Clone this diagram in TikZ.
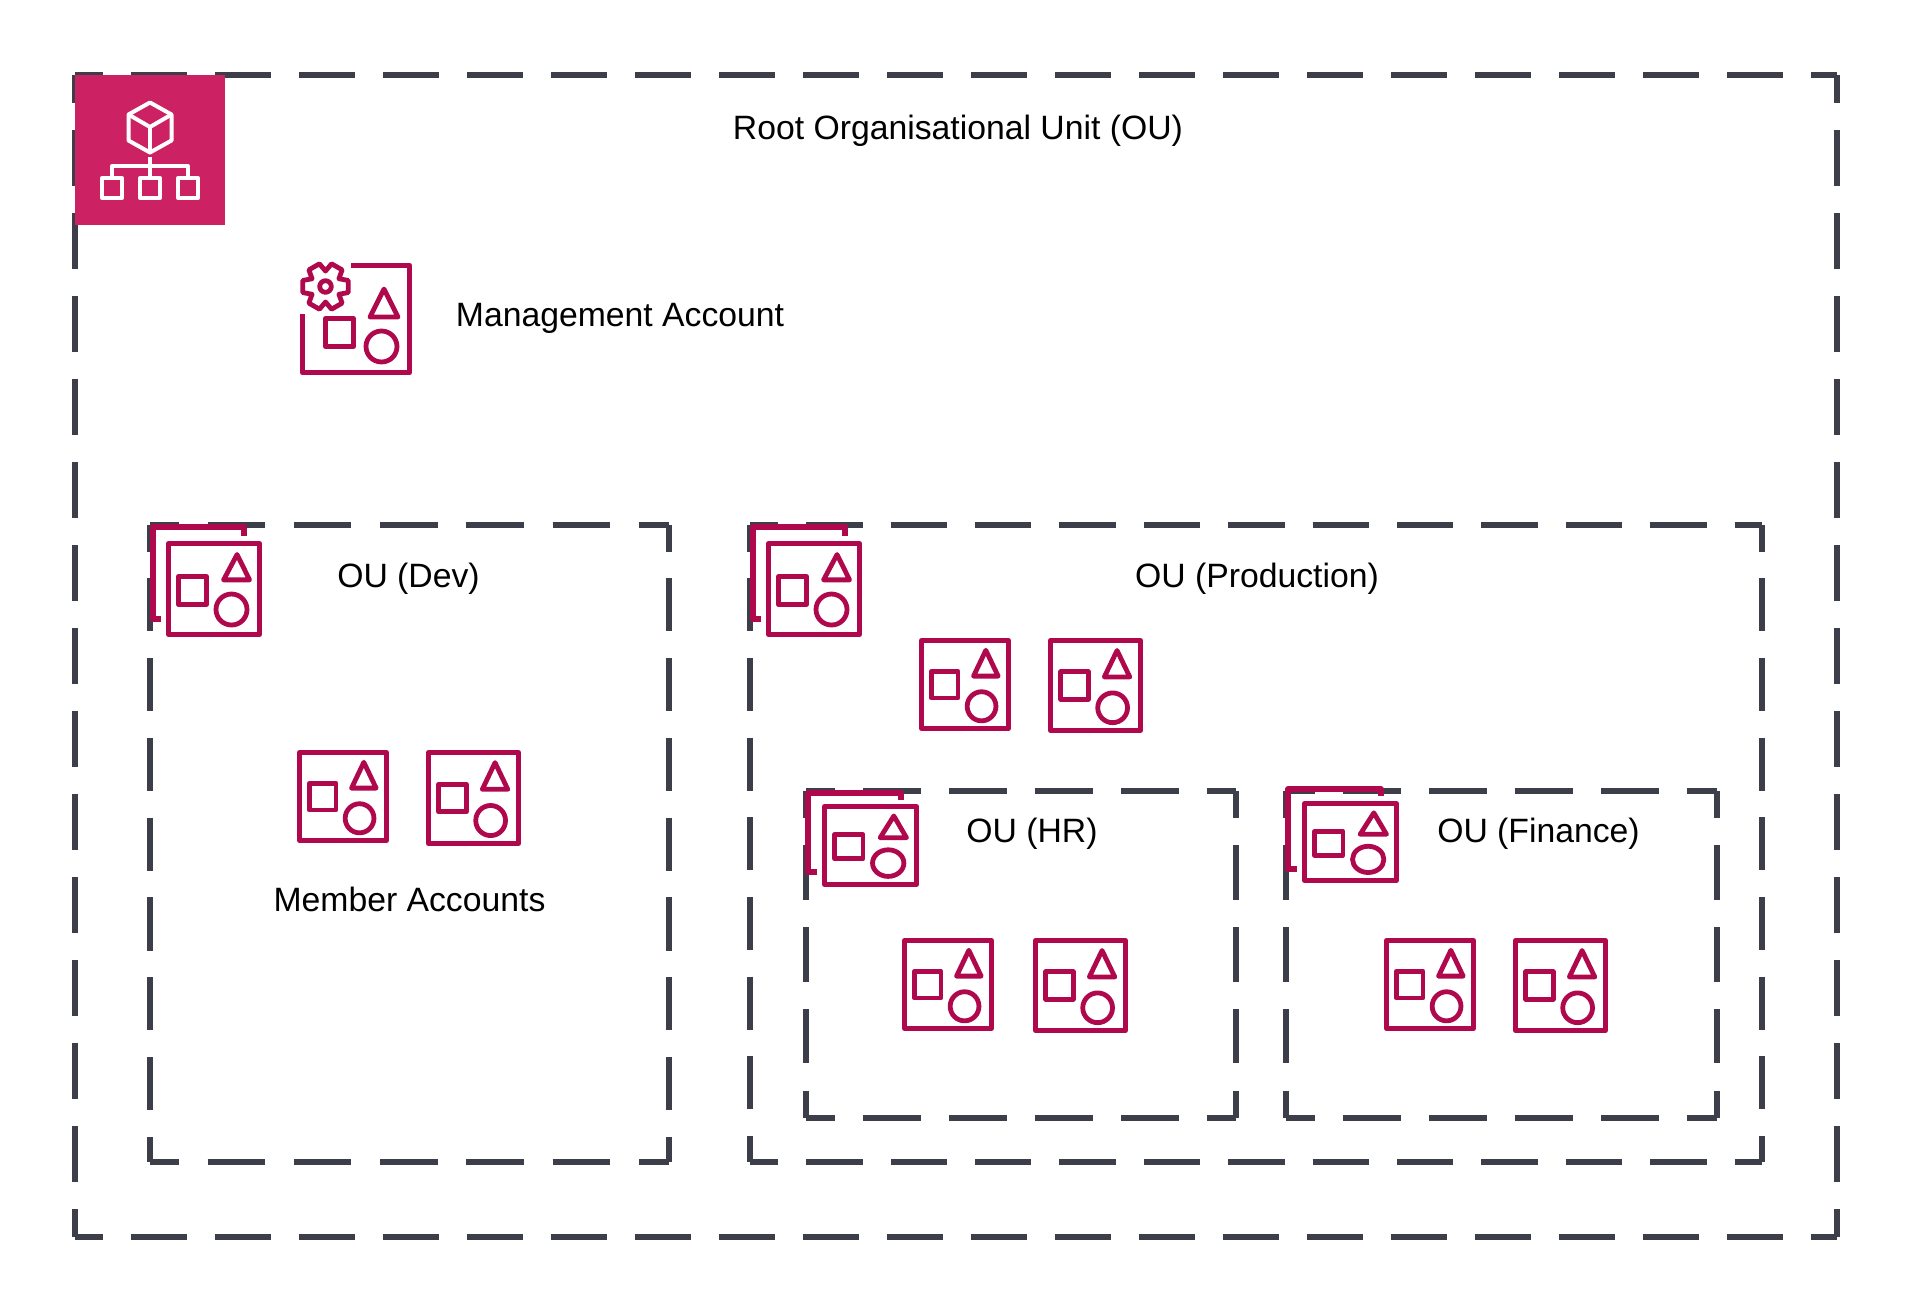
\documentclass[tikz,border=0pt]{standalone}
\usepackage{fontspec}
\setmainfont{Liberation Sans}
\definecolor{oudark}{HTML}{3C3F4A}
\definecolor{orgpink}{HTML}{CC2264}
\definecolor{acctred}{HTML}{B0084D}
\tikzset{
  outxt/.style={inner sep=0pt,text=black,font=\fontsize{16.87}{20}\selectfont},
  acctline/.style={draw=acctred,line width=2.4pt,line join=round,line cap=butt},
  orgline/.style={draw=white,line width=2pt,line join=round}
}
% name, x1,y1,x2,y2 (centre lines, px), horizontal dash period, vertical dash period
\newcommand{\oubox}[7]{%
  \coordinate (#1-nw) at (#2,#3);
  \coordinate (#1-se) at (#4,#5);
  \pgfmathsetmacro{\hon}{#6/3}\pgfmathsetmacro{\hoff}{#6/6}%
  \pgfmathsetmacro{\von}{#7/3}\pgfmathsetmacro{\voff}{#7/6}%
  \draw[oudark,line width=3pt,dash pattern=on \hon pt off \hoff pt,dash phase=\hoff pt]
    (#1-nw) -- (#1-nw -| #1-se);
  \draw[oudark,line width=3pt,dash pattern=on \hon pt off \hoff pt,dash phase=\hoff pt]
    (#1-nw |- #1-se) -- (#1-se);
  \draw[oudark,line width=3pt,dash pattern=on \von pt off \voff pt,dash phase=\voff pt]
    (#1-nw) -- (#1-nw |- #1-se);
  \draw[oudark,line width=3pt,dash pattern=on \von pt off \voff pt,dash phase=\voff pt]
    (#1-nw -| #1-se) -- (#1-se);
}
% member account icon: outer edges x1,y1,x2,y2
\newcommand{\memberacct}[4]{%
  \pgfmathsetlengthmacro{\iw}{(#3-#1-4.8)*0.5pt}%
  \pgfmathsetlengthmacro{\ih}{(#4-#2-4.8)*0.5pt}%
  \pgfmathsetmacro{\ix}{#1+2.4}\pgfmathsetmacro{\iy}{#2+2.4}%
  \begin{scope}[shift={(\ix,\iy)},x=\iw,y=-\ih]
    \draw[acctline] (0,0) rectangle (1,1);
    \draw[acctline] (.114,.348) rectangle (.42,.652);
    \draw[acctline] (.739,.112) -- (.88,.405) -- (.598,.405) -- cycle;
    \draw[acctline] (.69,.747) circle [x radius=.165,y radius=.165];
  \end{scope}
}
% group icon: front box outer edges x1,y1,x2,y2
\newcommand{\groupacct}[4]{%
  \pgfmathsetlengthmacro{\iw}{(#3-#1-4.8)*0.5pt}%
  \pgfmathsetlengthmacro{\ih}{(#4-#2-4.8)*0.5pt}%
  \pgfmathsetmacro{\ix}{#1+2.4}\pgfmathsetmacro{\iy}{#2+2.4}%
  \begin{scope}[shift={(\ix,\iy)},x=\iw,y=-\ih]
    \draw[acctline] (0,0) rectangle (1,1);
    \draw[acctline] (.11,.363) rectangle (.418,.67);
    \draw[acctline] (.753,.122) -- (.89,.40) -- (.605,.40) -- cycle;
    \draw[acctline] (.692,.725) circle [x radius=.17,y radius=.17];
  \end{scope}
}
% back of a group icon: left,top,right,topend,bottom,bottomend
\newcommand{\groupback}[6]{%
  \draw[acctline,line width=2.75pt] (#6,#5) -- (#1,#5) -- (#1,#2) -- (#3,#2) -- (#3,#4);
}
\begin{document}
\begin{tikzpicture}[x=0.5pt,y=-0.5pt]
\useasboundingbox (0,0) rectangle (1913,1313);
\fill[white] (0,0) rectangle (1913,1313);

% dashed containers
\oubox{root}{75}{75}{1837}{1237}{84}{83}
\oubox{dev}{150}{525}{669}{1162}{86.3}{79.8}
\oubox{prod}{750}{525}{1762}{1162}{84.4}{79.7}
\oubox{hr}{806}{791}{1236}{1118}{86}{81.7}
\oubox{fin}{1286}{791}{1717}{1118}{86}{81.7}

% organisations badge
\fill[orgpink] (75,75) rectangle (225,225);
\begin{scope}[orgline]
  \draw (150,102.5) -- (171.5,114.5) -- (171.5,140.5) -- (150,152.5) -- (128.5,140.5) -- (128.5,114.5) -- cycle;
  \draw (128.5,114.5) -- (150,127) -- (171.5,114.5);
  \draw (150,127) -- (150,152.5);
  \draw (150,157) -- (150,177);
  \draw (112,177) -- (112,166) -- (188,166) -- (188,177);
  \draw (102,178) rectangle (122,198);
  \draw (140,178) rectangle (160,198);
  \draw (178,178) rectangle (198,198);
\end{scope}

% management account
\draw[acctline] (351,265.2) -- (409.8,265.2) -- (409.8,372.8) -- (302.2,372.8) -- (302.2,314);
\draw[acctline] (325.5,318.5) rectangle (353.5,346.5);
\draw[acctline] (384,289) -- (398,317) -- (370,317) -- cycle;
\draw[acctline] (381.5,346.5) circle [radius=15.5];
\begin{scope}[shift={(325.5,286.5)}]
  \draw[acctline] (-30:15.5)
    \foreach \a in {0,60,120,180,240,300} { -- (\a-15:23.5) -- (\a+15:23.5) -- (\a+30:15.5) } -- cycle;
  \draw[acctline] (0,0) circle [radius=5.8];
\end{scope}

% group icons
\groupback{153}{527}{244}{536}{619}{161}
\groupacct{166}{541}{262}{637}
\groupback{753}{527}{845}{536}{619}{761}
\groupacct{766}{541}{862}{637}
\groupback{808}{793}{901}{800}{872}{817}
\groupacct{822}{804}{919}{887}
\groupback{1288}{789}{1381}{796}{869}{1297}
\groupacct{1302}{801}{1399}{883}

% member accounts
\memberacct{297}{750}{389}{843}
\memberacct{426}{750}{521}{846}
\memberacct{919}{638}{1011}{731}
\memberacct{1048}{638}{1143}{733}
\memberacct{902}{938}{994}{1031}
\memberacct{1033}{938}{1128}{1033}
\memberacct{1384}{938}{1476}{1031}
\memberacct{1513}{938}{1608}{1033}

% labels
\node[outxt] (rootlabel) at (958,130.5) {Root Organisational Unit (OU)};
\node[outxt,anchor=west] (mgmtlabel) at (455.5,318) {Management Account};
\node[outxt] (devlabel) at (408.5,579) {OU (Dev)};
\node[outxt] (prodlabel) at (1257,579) {OU (Production)};
\node[outxt] (hrlabel) at (1032,834) {OU (HR)};
\node[outxt] (finlabel) at (1538.5,834) {OU (Finance)};
\node[outxt] (memberlabel) at (409.5,899) {Member Accounts};
\end{tikzpicture}
\end{document}
